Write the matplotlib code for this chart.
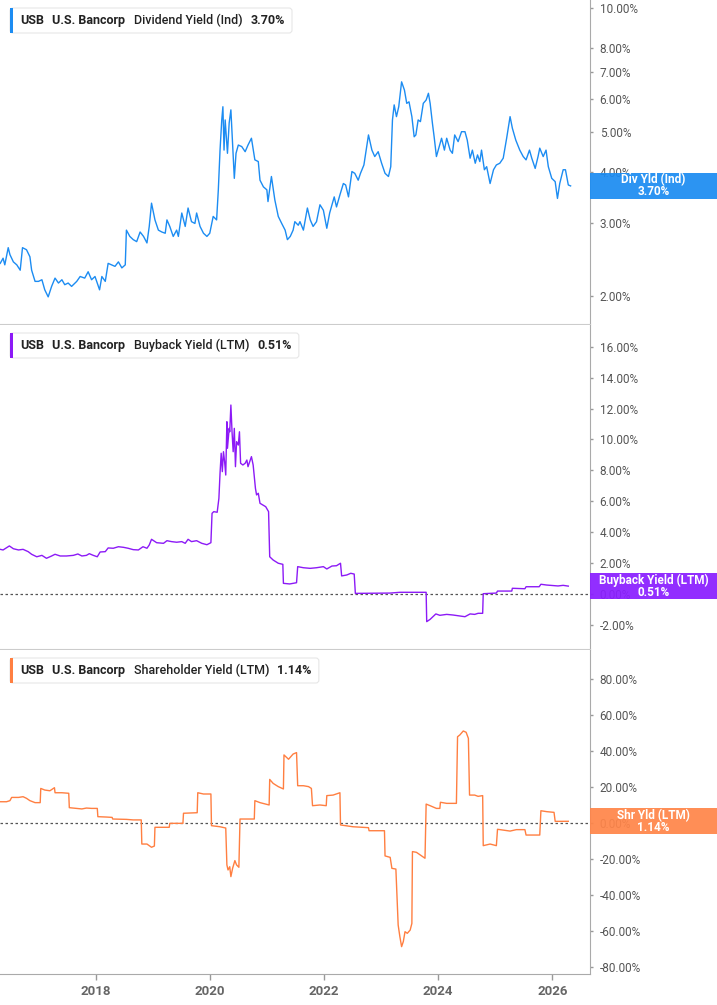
import matplotlib
matplotlib.use("Agg")
import matplotlib.pyplot as plt
from matplotlib.patches import FancyBboxPatch, Rectangle
from matplotlib.ticker import FuncFormatter, NullLocator
from matplotlib.transforms import IdentityTransform

plt.rcParams["font.family"] = ["Roboto", "DejaVu Sans"]

W, H = 717, 1005

# dividend yield (Ind), % on a log axis
div_years = [
    2016.33, 2016.38, 2016.41, 2016.47, 2016.50, 2016.56, 2016.62, 2016.68, 2016.72, 2016.79,
    2016.85, 2016.88, 2016.94, 2017.00, 2017.06, 2017.11, 2017.17, 2017.23, 2017.29, 2017.35,
    2017.41, 2017.46, 2017.52, 2017.58, 2017.67, 2017.73, 2017.81, 2017.87, 2017.93, 2017.99,
    2018.07, 2018.11, 2018.17, 2018.22, 2018.28, 2018.34, 2018.40, 2018.46, 2018.52, 2018.54,
    2018.60, 2018.66, 2018.72, 2018.78, 2018.84, 2018.90, 2018.94, 2018.98, 2019.04, 2019.10,
    2019.16, 2019.22, 2019.25, 2019.30, 2019.36, 2019.42, 2019.45, 2019.51, 2019.57, 2019.62,
    2019.68, 2019.74, 2019.77, 2019.83, 2019.89, 2019.95, 2020.00, 2020.06, 2020.12, 2020.15,
    2020.18, 2020.21, 2020.23, 2020.25, 2020.27, 2020.31, 2020.34, 2020.37, 2020.40, 2020.43,
    2020.46, 2020.50, 2020.56, 2020.62, 2020.67, 2020.73, 2020.79, 2020.85, 2020.88, 2020.94,
    2021.00, 2021.02, 2021.08, 2021.14, 2021.20, 2021.26, 2021.32, 2021.36, 2021.41, 2021.46,
    2021.49, 2021.55, 2021.58, 2021.64, 2021.71, 2021.76, 2021.81, 2021.87, 2021.93, 2021.99,
    2022.05, 2022.10, 2022.18, 2022.22, 2022.28, 2022.34, 2022.38, 2022.43, 2022.49, 2022.54,
    2022.60, 2022.64, 2022.70, 2022.74, 2022.78, 2022.84, 2022.89, 2022.95, 2023.01, 2023.07,
    2023.13, 2023.17, 2023.20, 2023.23, 2023.27, 2023.31, 2023.36, 2023.41, 2023.45, 2023.49,
    2023.54, 2023.58, 2023.61, 2023.65, 2023.69, 2023.74, 2023.79, 2023.83, 2023.86, 2023.90,
    2023.93, 2023.97, 2024.02, 2024.06, 2024.11, 2024.15, 2024.21, 2024.25, 2024.29, 2024.35,
    2024.41, 2024.47, 2024.51, 2024.56, 2024.60, 2024.65, 2024.69, 2024.73, 2024.76, 2024.81,
    2024.85, 2024.91, 2024.97, 2025.02, 2025.08, 2025.14, 2025.20, 2025.26, 2025.30, 2025.36,
    2025.43, 2025.49, 2025.54, 2025.60, 2025.64, 2025.70, 2025.75, 2025.78, 2025.84, 2025.89,
    2025.93, 2025.99, 2026.05, 2026.09, 2026.13, 2026.19, 2026.23, 2026.28, 2026.32,
]
div_yield = [
    2.40, 2.47, 2.38, 2.62, 2.52, 2.42, 2.38, 2.31, 2.62, 2.59,
    2.49, 2.31, 2.17, 2.17, 2.19, 2.07, 1.99, 2.11, 2.21, 2.15,
    2.19, 2.13, 2.15, 2.11, 2.17, 2.23, 2.21, 2.29, 2.19, 2.23,
    2.07, 2.23, 2.17, 2.40, 2.38, 2.36, 2.42, 2.34, 2.38, 2.89,
    2.79, 2.74, 2.71, 2.86, 2.79, 2.69, 2.95, 3.36, 3.06, 2.89,
    2.86, 2.84, 3.06, 2.95, 2.79, 2.89, 2.79, 3.18, 2.95, 3.27,
    3.03, 3.00, 3.18, 2.95, 2.84, 2.79, 2.84, 3.12, 3.06, 3.62,
    4.52, 5.35, 5.76, 4.52, 5.35, 4.44, 5.26, 5.66, 4.70, 3.86,
    4.44, 4.65, 4.61, 4.48, 4.65, 4.83, 4.28, 4.24, 3.82, 3.68,
    3.62, 3.39, 3.90, 3.42, 3.12, 3.00, 2.89, 2.74, 2.79, 2.89,
    3.03, 2.97, 3.03, 2.89, 3.27, 3.06, 2.95, 3.03, 3.33, 3.23,
    2.92, 3.18, 3.48, 3.29, 3.52, 3.75, 3.72, 3.48, 4.01, 3.97,
    3.82, 3.97, 4.16, 4.52, 4.92, 4.52, 4.36, 4.48, 4.20, 3.97,
    3.90, 4.12, 5.35, 5.82, 5.45, 5.76, 6.62, 6.32, 5.87, 5.92,
    5.45, 4.87, 4.92, 5.35, 5.30, 5.87, 5.98, 6.21, 5.87, 5.25,
    4.87, 4.36, 4.61, 4.83, 4.52, 4.83, 4.52, 4.44, 4.92, 4.74,
    5.01, 5.01, 4.78, 4.32, 4.52, 4.20, 4.40, 4.24, 4.52, 4.05,
    4.12, 3.75, 4.05, 4.16, 4.20, 4.32, 4.83, 5.45, 5.11, 4.78,
    4.52, 4.36, 4.28, 4.52, 4.32, 4.08, 4.36, 4.57, 4.36, 4.52,
    4.12, 3.86, 3.79, 3.45, 3.75, 4.05, 4.05, 3.72, 3.70,
]

# buyback yield (LTM), %
bb_years = [
    2016.33, 2016.38, 2016.49, 2016.56, 2016.65, 2016.73, 2016.82, 2016.88, 2016.97, 2017.06,
    2017.14, 2017.23, 2017.29, 2017.38, 2017.49, 2017.61, 2017.69, 2017.76, 2017.84, 2017.89,
    2017.96, 2018.03, 2018.08, 2018.17, 2018.22, 2018.31, 2018.40, 2018.49, 2018.57, 2018.66,
    2018.75, 2018.83, 2018.90, 2018.94, 2018.98, 2019.07, 2019.19, 2019.25, 2019.33, 2019.42,
    2019.51, 2019.57, 2019.62, 2019.68, 2019.77, 2019.86, 2019.95, 2020.02, 2020.04, 2020.07,
    2020.13, 2020.16, 2020.18, 2020.20, 2020.22, 2020.24, 2020.26, 2020.28, 2020.30, 2020.31,
    2020.34, 2020.35, 2020.37, 2020.39, 2020.41, 2020.43, 2020.45, 2020.47, 2020.50, 2020.52,
    2020.54, 2020.58, 2020.62, 2020.65, 2020.67, 2020.70, 2020.73, 2020.76, 2020.80, 2020.82,
    2020.85, 2020.88, 2020.93, 2020.98, 2021.03, 2021.05, 2021.11, 2021.20, 2021.28, 2021.29,
    2021.40, 2021.52, 2021.54, 2021.64, 2021.76, 2021.87, 2021.99, 2022.05, 2022.14, 2022.22,
    2022.29, 2022.31, 2022.40, 2022.47, 2022.53, 2022.55, 2023.16, 2023.33, 2023.79, 2023.80,
    2023.86, 2023.96, 2024.03, 2024.15, 2024.26, 2024.38, 2024.47, 2024.56, 2024.64, 2024.70,
    2024.78, 2024.79, 2025.02, 2025.04, 2025.29, 2025.30, 2025.52, 2025.54, 2025.77, 2025.80,
    2025.90, 2026.02, 2026.10, 2026.19, 2026.28,
]
bb_yield = [
    2.89, 2.85, 3.11, 2.93, 2.85, 2.89, 2.74, 2.57, 2.41, 2.50,
    2.31, 2.46, 2.57, 2.46, 2.46, 2.50, 2.59, 2.46, 2.50, 2.61,
    2.50, 2.41, 2.72, 2.74, 2.98, 2.96, 3.06, 3.02, 2.96, 2.87,
    2.85, 3.06, 2.96, 3.17, 3.54, 3.32, 3.28, 3.45, 3.39, 3.35,
    3.39, 3.28, 3.54, 3.39, 3.45, 3.28, 3.19, 3.32, 5.22, 5.33,
    5.29, 6.19, 7.81, 9.11, 7.92, 9.21, 8.56, 7.70, 11.15, 9.43,
    10.72, 10.50, 12.23, 10.50, 9.21, 10.72, 8.24, 9.86, 9.64, 10.50,
    8.46, 8.35, 8.46, 8.67, 8.24, 8.56, 8.89, 8.35, 6.84, 6.41,
    6.52, 5.87, 5.76, 5.65, 5.33, 2.41, 2.20, 1.99, 1.92, 0.69,
    0.65, 0.73, 1.77, 1.70, 1.66, 1.70, 1.77, 1.62, 1.81, 1.83,
    1.99, 1.17, 1.23, 1.34, 1.29, 0.04, 0.06, 0.11, 0.11, -1.79,
    -1.64, -1.29, -1.38, -1.32, -1.36, -1.42, -1.47, -1.29, -1.32, -1.25,
    -1.25, 0.02, 0.06, 0.19, 0.19, 0.37, 0.34, 0.47, 0.47, 0.63,
    0.58, 0.54, 0.52, 0.56, 0.51,
]

# shareholder yield (LTM), %
shr_years = [
    2016.33, 2016.44, 2016.50, 2016.53, 2016.65, 2016.73, 2016.79, 2016.85, 2016.94, 2017.03,
    2017.04, 2017.11, 2017.20, 2017.28, 2017.29, 2017.41, 2017.53, 2017.54, 2017.67, 2017.76,
    2017.84, 2017.93, 2018.03, 2018.04, 2018.19, 2018.29, 2018.30, 2018.54, 2018.66, 2018.80,
    2018.81, 2018.90, 2018.98, 2019.03, 2019.04, 2019.29, 2019.30, 2019.53, 2019.54, 2019.78,
    2019.79, 2019.89, 2020.02, 2020.03, 2020.18, 2020.28, 2020.30, 2020.32, 2020.35, 2020.37,
    2020.40, 2020.44, 2020.47, 2020.51, 2020.53, 2020.78, 2020.79, 2020.88, 2021.04, 2021.05,
    2021.11, 2021.20, 2021.29, 2021.30, 2021.38, 2021.46, 2021.52, 2021.54, 2021.64, 2021.73,
    2021.78, 2021.80, 2021.93, 2022.04, 2022.05, 2022.16, 2022.28, 2022.29, 2022.51, 2022.78,
    2022.79, 2023.06, 2023.07, 2023.16, 2023.19, 2023.26, 2023.30, 2023.33, 2023.36, 2023.39,
    2023.42, 2023.46, 2023.51, 2023.54, 2023.55, 2023.62, 2023.71, 2023.77, 2023.79, 2023.86,
    2023.97, 2024.03, 2024.04, 2024.15, 2024.32, 2024.34, 2024.38, 2024.44, 2024.49, 2024.53,
    2024.55, 2024.64, 2024.70, 2024.78, 2024.79, 2024.91, 2025.02, 2025.04, 2025.26, 2025.37,
    2025.52, 2025.54, 2025.78, 2025.80, 2025.90, 2026.03, 2026.05, 2026.28,
]
shr_yield = [
    12.0, 12.0, 12.6, 14.4, 14.4, 14.8, 13.9, 12.6, 11.5, 11.5,
    19.4, 18.5, 18.1, 19.8, 17.0, 17.0, 16.7, 8.7, 8.3, 8.0,
    8.5, 8.3, 8.3, 3.7, 3.5, 3.3, 2.4, 2.2, 1.9, 1.9,
    -11.5, -11.5, -13.3, -12.6, -2.2, -2.2, 0.0, 0.0, 5.6, 5.9,
    17.0, 16.3, 16.3, -1.3, -1.9, -2.6, -23.1, -25.9, -24.1, -29.6,
    -25.0, -20.7, -23.1, -24.4, 2.4, 2.4, 12.6, 11.5, 10.2, 24.4,
    22.2, 20.4, 19.1, 38.0, 35.6, 38.5, 39.3, 20.9, 20.9, 20.4,
    19.4, 9.8, 10.2, 9.8, 15.4, 15.7, 17.0, -0.9, -1.9, -2.4,
    -4.1, -4.1, -18.1, -18.9, -25.0, -25.4, -56.5, -63.0, -68.5, -65.7,
    -60.2, -61.1, -59.3, -55.6, -15.7, -16.1, -18.1, -19.4, 10.7, 9.8,
    8.3, 8.3, 11.7, 11.1, 11.1, 48.1, 49.1, 51.3, 50.6, 47.2,
    15.7, 15.7, 15.0, 15.4, -12.4, -11.5, -12.4, -3.3, -4.3, -3.5,
    -3.5, -6.5, -6.5, 7.0, 6.5, 6.1, 1.1, 1.14,
]

year_ticks = [2018, 2020, 2022, 2024, 2026]

BLUE = "#1C8CF2"
PURPLE = "#8C1AF6"
ORANGE = "#FF7F41"

fig = plt.figure(figsize=(W / 100, H / 100), dpi=100)


def frac(px, py):
    return px / W, 1 - py / H


def make_axes(top_px, bottom_px):
    x0, y0 = frac(0, bottom_px)
    ax = fig.add_axes([x0, y0, 590 / W, (bottom_px - top_px) / H])
    ax.yaxis.tick_right()
    for side in ("top", "left"):
        ax.spines[side].set_visible(False)
    ax.spines["right"].set_color("#aaaaaa")
    ax.spines["bottom"].set_color("#cccccc")
    ax.tick_params(axis="y", length=2, width=1, color="#999999", pad=5,
                   labelsize=8.5, labelcolor="#555555")
    ax.set_xlim(2016.326, 2026.66)
    ax.set_xticks([])
    ax.yaxis.set_major_formatter(FuncFormatter(lambda v, _: f"{v:.2f}%"))
    return ax


ax1 = make_axes(0, 324)
ax1.plot(div_years, div_yield, color=BLUE, lw=1.0)
ax1.set_yscale("log")
ax1.set_ylim(1.71, 10.46)
ax1.set_yticks([2, 3, 4, 5, 6, 7, 8, 10])
ax1.yaxis.set_minor_locator(NullLocator())
ax1.yaxis.set_major_formatter(FuncFormatter(lambda v, _: f"{v:.2f}%"))

ax2 = make_axes(325, 649)
ax2.plot(bb_years, bb_yield, color=PURPLE, lw=1.0)
ax2.set_ylim(-3.56, 17.41)
ax2.set_yticks(range(-2, 17, 2))
ax2.axhline(0, color="#555555", lw=0.9, ls=(0, (2, 2)), zorder=0)

ax3 = make_axes(650, 974)
ax3.plot(shr_years, shr_yield, color=ORANGE, lw=1.0)
ax3.set_ylim(-83.7, 96.3)
ax3.set_yticks(range(-80, 81, 20))
ax3.axhline(0, color="#555555", lw=0.9, ls=(0, (2, 2)), zorder=0)
ax3.spines["bottom"].set_color("#aaaaaa")
ax3.set_xticks(year_ticks)
ax3.set_xticklabels([str(y) for y in year_ticks])
ax3.tick_params(axis="x", length=4, width=1, color="#999999", pad=4,
                labelsize=9.5, labelcolor="#666666")
for lbl in ax3.get_xticklabels():
    lbl.set_fontweight("bold")

renderer = fig.canvas.get_renderer()


def add_legend(top_px, color, metric, value):
    cy = top_px + 20.7
    x = 20
    pieces = [("USB", "bold", 8), ("U.S. Bancorp", "bold", 9), (metric, "medium", 8), (value, "bold", 0)]
    end = x
    for text, weight, gap in pieces:
        fx, fy = frac(x, cy)
        t = fig.text(fx, fy, text, fontsize=9, fontweight=weight, color="#222222",
                     ha="left", va="center", zorder=5)
        bb = t.get_window_extent(renderer)
        end = bb.x1
        x = bb.x1 + gap
    box = FancyBboxPatch((10, H - (top_px + 33)), end + 7 - 10, 25,
                         boxstyle="round,pad=0,rounding_size=3", transform=IdentityTransform(),
                         facecolor="white", edgecolor="#e6e6e6", lw=0.8, zorder=4)
    fig.patches.append(box)
    bar = Rectangle((10, H - (top_px + 33)), 3, 25, transform=IdentityTransform(),
                    facecolor=color, edgecolor="none", zorder=4.5)
    fig.patches.append(bar)


def add_value_box(ax, x_last, y_last, color, name, value):
    _, ypix = ax.transData.transform((x_last, y_last))
    box = Rectangle((590, ypix - 13), W - 590, 26, transform=IdentityTransform(),
                    facecolor=color, edgecolor="none", alpha=0.93, zorder=4)
    fig.patches.append(box)
    fig.text(653.5 / W, (ypix + 6) / H, name, fontsize=8.5, fontweight="bold",
             color="white", ha="center", va="center", zorder=5)
    fig.text(653.5 / W, (ypix - 6) / H, value, fontsize=8.5, fontweight="bold",
             color="white", ha="center", va="center", zorder=5)


add_legend(0, BLUE, "Dividend Yield (Ind)", "3.70%")
add_legend(325, PURPLE, "Buyback Yield (LTM)", "0.51%")
add_legend(650, ORANGE, "Shareholder Yield (LTM)", "1.14%")

add_value_box(ax1, div_years[-1], div_yield[-1], BLUE, "Div Yld (Ind)", "3.70%")
add_value_box(ax2, bb_years[-1], bb_yield[-1], "#8A1EFF", "Buyback Yield (LTM)", "0.51%")
add_value_box(ax3, shr_years[-1], shr_yield[-1], "#FF8549", "Shr Yld (LTM)", "1.14%")

fig.savefig("out.png", dpi=100)
